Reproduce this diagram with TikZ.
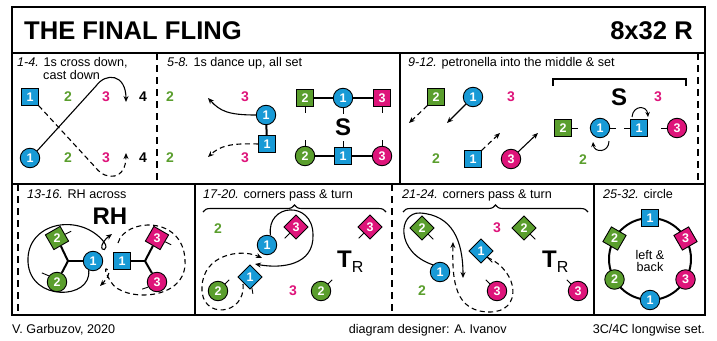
\documentclass[tikz,border=0pt]{standalone}
\usepackage{fontspec}
\setmainfont{Liberation Sans}
\usetikzlibrary{shapes.geometric,arrows.meta,decorations.pathreplacing}
\definecolor{dblue}{RGB}{24,154,214}
\definecolor{dgreen}{RGB}{90,158,45}
\definecolor{dmag}{RGB}{222,20,122}
\tikzset{
 dbase/.style={draw=black, line width=0.9pt, inner sep=0pt, text=white, font=\fontsize{12.5}{12.5}\selectfont\bfseries},
 sq/.style={dbase, rectangle, minimum size=16.5pt},
 ci/.style={dbase, circle, minimum size=19.5pt},
 dm/.style={dbase, regular polygon, regular polygon sides=4, minimum size=24pt, shape border rotate=#1},
 ng/.style={text=dgreen, font=\fontsize{14}{14}\selectfont\bfseries, inner sep=0pt},
 nm/.style={text=dmag, font=\fontsize{14}{14}\selectfont\bfseries, inner sep=0pt},
 nk/.style={text=black, font=\fontsize{14}{14}\selectfont\bfseries, inner sep=0pt},
 lbl/.style={anchor=base west, inner sep=0pt, font=\fontsize{12.6}{14}\selectfont},
 big/.style={font=\fontsize{24}{24}\selectfont\bfseries, inner sep=0pt},
 tick/.style={line width=0.9pt},
 link/.style={line width=2pt},
 arr/.style={line width=1.1pt, -{Stealth[length=6pt,width=5pt]}},
 darr/.style={arr, dash pattern=on 5pt off 3.5pt},
 arrs/.style={line width=1pt, -{Stealth[length=5pt,width=4.5pt]}},
 frame/.style={line width=1.5pt},
 dframe/.style={line width=1.5pt, dash pattern=on 7pt off 5pt},
 brc/.style={line width=1.1pt, decorate, decoration={brace, amplitude=7pt}}
}
\begin{document}
\begin{tikzpicture}[x=1pt,y=-1pt]
\useasboundingbox (0,0) rectangle (717,340);
% frame
\draw[frame] (12,7) rectangle (705,315);
\draw[frame] (12,53) -- (705,53);
\draw[frame] (12,184) -- (705,184);
\draw[dframe] (157,53) -- (157,184);
\draw[frame] (400,53) -- (400,184);
\draw[dframe] (698,53) -- (698,184);
\draw[dframe] (18,184) -- (18,315);
\draw[frame] (195,184) -- (195,315);
\draw[dframe] (392,184) -- (392,315);
\draw[frame] (594,184) -- (594,315);
% title
\node[anchor=base west, inner sep=0pt, font=\fontsize{25.6}{26}\selectfont\bfseries] (title) at (24,39) {THE FINAL FLING};
\node[anchor=base east, inner sep=0pt, font=\fontsize{25.6}{26}\selectfont\bfseries] (form) at (693,39) {8x32 R};
% footer
\node[lbl] (f1) at (12,333) {V. Garbuzov, 2020};
\node[lbl, anchor=base east] (f2) at (507,333) {diagram designer: A. Ivanov};
\node[lbl, anchor=base east] (f3) at (705,333) {3C/4C longwise set.};

% ---- cell 1-4
\node[lbl] (t1) at (17,66) {\textit{1-4.} 1s cross down,};
\node[lbl] (t1b) at (43,79) {cast down};
\node[sq, fill=dblue] (a1s) at (30,97) {1};
\node[ci, fill=dblue] (a1c) at (30,158) {1};
\node[ng] (a2t) at (68,97) {2};
\node[nm] (a3t) at (106,97) {3};
\node[nk] (a4t) at (143,97) {4};
\node[ng] (a2b) at (68,158) {2};
\node[nm] (a3b) at (106,158) {3};
\node[nk] (a4b) at (143,158) {4};
\draw[arr] (a1c.45) -- (96,86) .. controls (106,72) and (126,74) .. (126,102);
\draw[darr] (a1s.-45) -- (96,168) .. controls (106,181) and (126,180) .. (126,153);

% ---- cell 5-8
\node[lbl] (t2) at (167,66) {\textit{5-8.} 1s dance up, all set};
\node[ng] (b2t) at (170,97) {2};
\node[ng] (b2b) at (170,158) {2};
\node[nm] (b3t) at (245,97) {3};
\node[nm] (b3b) at (245,158) {3};
\node[ci, fill=dblue] (b1c) at (266,115) {1};
\node[sq, fill=dblue] (b1s) at (267,144) {1};
\draw[link] (b1c) -- (b1s);
\draw[arr] (b1c.west) .. controls (228,115) and (220,111) .. (208,98);
\draw[darr] (b1s.west) .. controls (230,143) and (220,146) .. (208,157);
\node[sq, fill=dgreen] (bs2) at (305,98) {2};
\node[ci, fill=dblue] (bc1) at (343,98) {1};
\node[sq, fill=dmag] (bs3) at (382,98) {3};
\node[ci, fill=dgreen] (bc2) at (305,156) {2};
\node[sq, fill=dblue] (bs1) at (343,156) {1};
\node[ci, fill=dmag] (bc3) at (382,156) {3};
\draw[link] (bs2) -- (bc1) -- (bs3);
\draw[link] (bc2) -- (bs1) -- (bc3);
\draw[tick] (bs2.south) -- ++(0,6);
\draw[tick] (bc1.south) -- ++(0,6);
\draw[tick] (bs3.south) -- ++(0,6);
\draw[tick] (bc2.north) -- ++(0,-6);
\draw[tick] (bs1.north) -- ++(0,-6);
\draw[tick] (bc3.north) -- ++(0,-6);
\node[big] (bS) at (343,127) {S};

% ---- cell 9-12
\node[lbl] (t3) at (408,66) {\textit{9-12.} petronella into the middle \& set};
\node[sq, fill=dgreen] (cs2) at (436,97) {2};
\node[ci, fill=dblue] (cc1) at (473,97) {1};
\node[nm] (c3t) at (511,97) {3};
\node[ng] (c2b) at (436,159) {2};
\node[sq, fill=dblue] (cs1) at (473,159) {1};
\node[ci, fill=dmag] (cc3) at (511,159) {3};
\coordinate (cA) at (409,123);
\coordinate (cB) at (447,123);
\coordinate (cC) at (500,133);
\coordinate (cD) at (538,133);
\draw[darr] (cs2.south west) -- (cA);
\draw[arr] (cc1.225) -- (cB);
\draw[darr] (cs1.north east) -- (cC);
\draw[arr] (cc3.45) -- (cD);
\draw[line width=1.2pt] (553,86) -- (553,79) -- (686,79) -- (686,86);
\node[big] (cS) at (619,97) {S};
\node[nm] (c3r) at (658,97) {3};
\node[sq, fill=dgreen] (ds2) at (563,128) {2};
\node[ci, fill=dblue] (dc1) at (600,128) {1};
\node[sq, fill=dblue] (ds1) at (639,128) {1};
\node[ci, fill=dmag] (dc3) at (677,128) {3};
\node[ng] (d2) at (583,160) {2};
\draw[tick] (ds2.east) -- ++(6,0);
\draw[tick] (dc1.east) -- ++(6,0);
\draw[tick] (ds1.west) -- ++(-6,0);
\draw[tick] (dc3.west) -- ++(-6,0);
\draw[arrs] (632,117) .. controls (633,105) and (647,105) .. (648,117);
\draw[arrs] (609,141) .. controls (609,153) and (594,153) .. (593,142);

% ---- cell 13-16
\node[lbl] (t4) at (27,198) {\textit{13-16.} RH across};
\node[big] (eRH) at (110,216) {RH};
\coordinate (eL) at (68,261);
\coordinate (eR) at (145,261);
\node[dm=30, fill=dgreen] (es2) at (57,238) {2};
\node[ci, fill=dgreen] (ec2) at (57,282) {2};
\node[ci, fill=dblue] (ec1) at (93,261) {1};
\node[sq, fill=dblue] (es1) at (122,261) {1};
\node[dm=-30, fill=dmag] (es3) at (157,238) {3};
\node[ci, fill=dmag] (ec3) at (157,282) {3};
\draw[link] (eL) -- (ec1);
\draw[link] (eL) -- (es2);
\draw[link] (eL) -- (ec2);
\draw[link] (eR) -- (es1);
\draw[link] (eR) -- (es3);
\draw[link] (eR) -- (ec3);
\draw[tick] (es2.25) -- ++(6,-3);
\draw[tick] (ec2.143) -- ++(-7,-3);
\draw[tick] (es3.-25) -- ++(6,3);
\draw[tick] (ec3.-150) -- ++(-6,2);
\draw[arr] (ec1.-115) .. controls (92,300) and (30,302) .. (28,262) .. controls (26,222) and (80,212) .. (104,242) .. controls (110,250) and (100,253) .. (102,245) .. controls (104,240) and (108,237) .. (112,234);
\draw[darr] (118,243) .. controls (125,218) and (183,215) .. (185,260) .. controls (188,302) and (122,302) .. (111,282) .. controls (106,274) and (103,266) .. (108,270) .. controls (111,273) and (106,280) .. (100,286);

% ---- cell 17-20
\node[lbl] (t5) at (203,198) {\textit{17-20.} corners pass \& turn};
\draw[brc] (203,212) -- (386,212);
\node[ng] (f2t) at (218,229) {2};
\node[dm=45, fill=dmag] (fd3) at (296,227) {3};
\node[ci, fill=dblue] (fc1) at (267,245) {1};
\node[dm=45, fill=dblue] (fd1) at (250,277) {1};
\node[ci, fill=dgreen] (fc2) at (218,291) {2};
\node[nm] (f3b) at (293,291) {3};
\node[ci, fill=dgreen] (fc2b) at (321,291) {2};
\node[dm=45, fill=dmag] (fd3b) at (370,227) {3};
\node[anchor=base west, inner sep=0pt] (fT) at (337,267) {{\fontsize{24}{24}\selectfont\bfseries T}{\fontsize{16}{16}\selectfont\raisebox{-5pt}{R}}};
\draw[tick] (fd3.225) -- ++(-5,5);
\draw[tick] (fd1.-80) -- ++(1,6);
\draw[tick] (fc2.45) -- ++(4,-4);
\draw[tick] (fc2b.45) -- ++(4,-4);
\draw[tick] (fd3b.225) -- ++(-5,5);
\draw[arr] (fc1.70) .. controls (266,203) and (313,200) .. (313,235) .. controls (314,265) and (282,269) .. (255,264);
\draw[darr] (243,284) .. controls (246,316) and (200,320) .. (202,287) .. controls (203,255) and (240,248) .. (262,258);

% ---- cell 21-24
\node[lbl] (t6) at (402,198) {\textit{21-24.} corners pass \& turn};
\draw[brc] (403,212) -- (588,212);
\node[dm=45, fill=dgreen] (gd2) at (422,228) {2};
\node[nm] (g3t) at (497,228) {3};
\node[dm=45, fill=dgreen] (gd2b) at (524,228) {2};
\node[dm=45, fill=dblue] (gd1) at (481,251) {1};
\node[ci, fill=dblue] (gc1) at (440,272) {1};
\node[ng] (g2b) at (422,291) {2};
\node[ci, fill=dmag] (gc3) at (497,291) {3};
\node[ci, fill=dmag] (gc3b) at (578,291) {3};
\node[anchor=base west, inner sep=0pt] (gT) at (542,267) {{\fontsize{24}{24}\selectfont\bfseries T}{\fontsize{16}{16}\selectfont\raisebox{-5pt}{R}}};
\draw[tick] (gd2.-45) -- ++(5,5);
\draw[tick] (gd2b.-45) -- ++(5,5);
\draw[tick] (gd1.-45) -- ++(5,5);
\draw[tick] (gc3.135) -- ++(-4,-4);
\draw[tick] (gc3b.135) -- ++(-4,-4);
\draw[arr] (gc1.135) .. controls (395,252) and (398,212) .. (420,213) .. controls (452,215) and (463,240) .. (463,278);
\draw[darr] (gd1.-45) .. controls (520,272) and (522,312) .. (490,312) .. controls (455,312) and (452,282) .. (453,242);

% ---- cell 25-32
\node[lbl] (t7) at (603,198) {\textit{25-32.} circle};
\draw[line width=2pt] (650,259) circle (41);
\node[sq, fill=dblue] (h1s) at (650,218) {1};
\node[dm=30, fill=dmag] (h3s) at (685.5,238.5) {3};
\node[ci, fill=dmag] (h3c) at (685.5,279.5) {3};
\node[ci, fill=dblue] (h1c) at (650,300) {1};
\node[ci, fill=dgreen] (h2c) at (614.5,279.5) {2};
\node[dm=-30, fill=dgreen] (h2s) at (614.5,238.5) {2};
\node[align=center, inner sep=0pt, font=\fontsize{12.6}{12.5}\selectfont] (hc) at (650,261) {left \&\\back};
\end{tikzpicture}
\end{document}
